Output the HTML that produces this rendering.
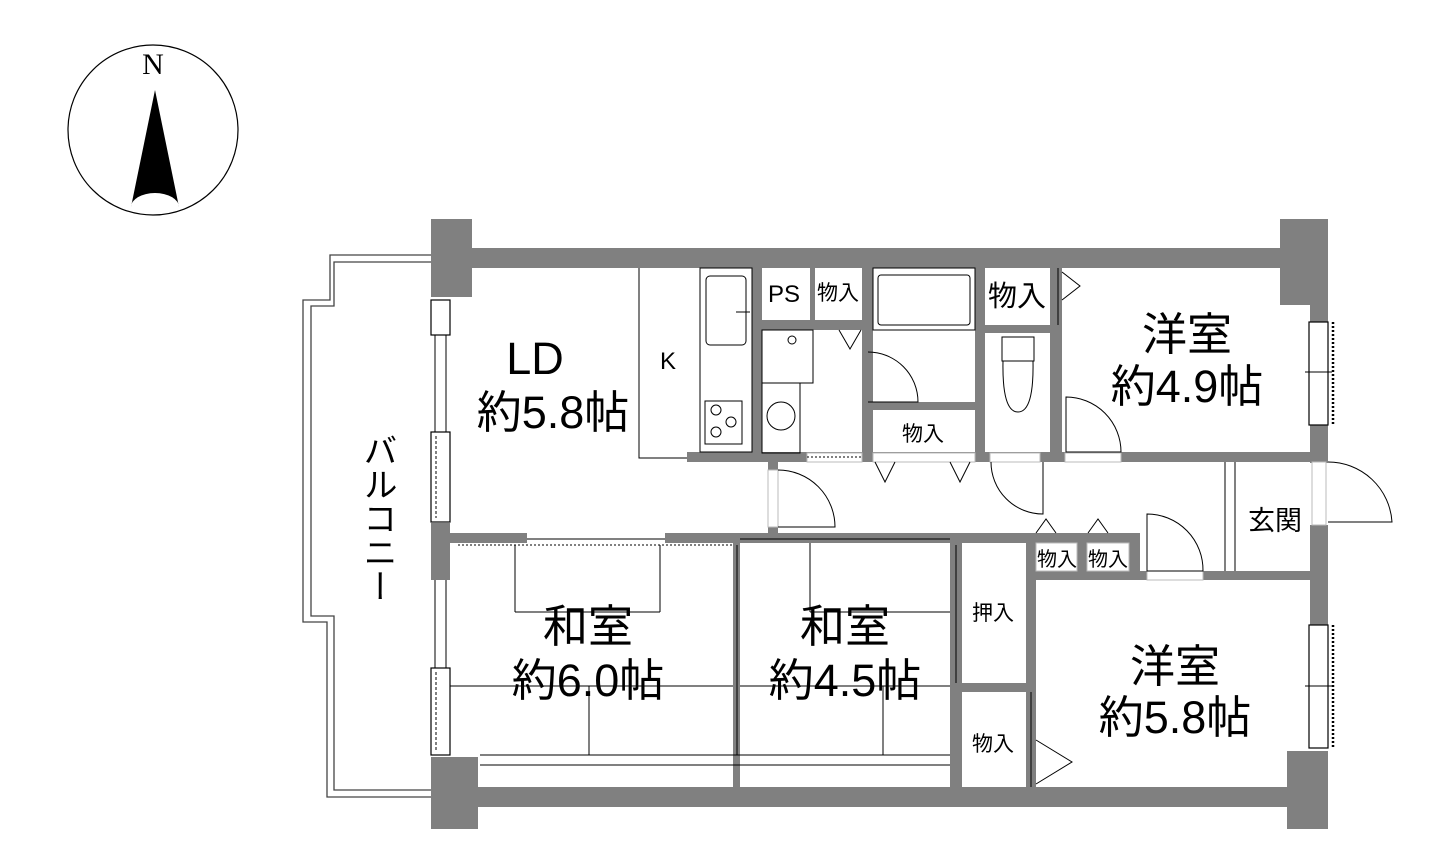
<!DOCTYPE html>
<html><head><meta charset="utf-8"><style>
html,body{margin:0;padding:0;background:#fff;}
svg{display:block;}
text{font-family:"Liberation Sans","Noto Sans CJK JP",sans-serif;fill:#000;}
text.serif{font-family:"Liberation Serif",serif;}
</style></head><body>
<svg width="1449" height="859" viewBox="0 0 1449 859" xmlns="http://www.w3.org/2000/svg">
<circle cx="153" cy="130" r="85" fill="#fff" stroke="#000" stroke-width="1.2"/>
<text class="serif" x="153" y="74" font-size="30" text-anchor="middle">N</text>
<polygon points="155,90 131,207 179,207" fill="#000"/>
<path d="M131,207 A24,14 0 0 1 179,207 Z" fill="#fff"/>

<g fill="none" stroke="#444" stroke-width="1.3">
<path d="M431,255 H330 V300 H303 V622 H327 V797 H431"/>
<path d="M431,262 H334 V306 H311 V616 H334 V790 H431"/>
</g>
<text x="377" y="518" font-size="34" text-anchor="middle" writing-mode="tb">バルコニー</text>

<g fill="#808080">
<rect x="431" y="248" width="897" height="20"/>
<rect x="431" y="219" width="41" height="78"/>
<rect x="1280" y="219" width="48" height="86"/>
<rect x="1310" y="268" width="18" height="54"/>
<rect x="1310" y="425" width="18" height="38"/>
<rect x="1310" y="525" width="18" height="100"/>
<rect x="1287" y="751" width="41" height="78"/>
<rect x="431" y="787" width="897" height="20"/>
<rect x="431" y="757" width="47" height="72"/>
<rect x="431" y="523" width="19" height="57"/>
<rect x="687" y="452" width="623" height="10"/>
<rect x="752" y="268" width="10" height="190"/>
<rect x="810" y="268" width="5" height="52"/>
<rect x="762" y="320" width="100" height="10"/>
<rect x="862" y="268" width="11" height="190"/>
<rect x="862" y="402" width="113" height="8"/>
<rect x="975" y="268" width="10" height="190"/>
<rect x="985" y="325" width="65" height="8"/>
<rect x="1050" y="268" width="12" height="190"/>
<rect x="768" y="462" width="10" height="78"/>
<rect x="450" y="533" width="77" height="10"/>
<rect x="665" y="533" width="365" height="10"/>
<rect x="1026" y="533" width="114" height="47"/>
<rect x="1026" y="571" width="284" height="9"/>
<rect x="733" y="543" width="7" height="244"/>
<rect x="950" y="543" width="12" height="244"/>
<rect x="1026" y="580" width="10" height="207"/>
<rect x="955" y="683" width="75" height="9"/>
</g>
<g fill="#fff" stroke="#bbb" stroke-width="1">
<rect x="1036" y="543" width="41" height="28"/>
<rect x="1087" y="543" width="42" height="28"/>
<rect x="1147" y="571" width="56" height="9"/>
<rect x="873" y="453" width="102" height="9"/>
<rect x="990" y="453" width="50" height="9"/>
<rect x="1065" y="453" width="56" height="9"/>
<rect x="807" y="453" width="55" height="9"/>
<rect x="768" y="470" width="10" height="57"/>
<rect x="1312" y="462" width="14" height="63"/>
</g>
<g fill="#fff" stroke="#000" stroke-width="1.2">
<rect x="431" y="300" width="19" height="35"/>
<rect x="431" y="432" width="19" height="90"/>
<rect x="431" y="668" width="19" height="87"/>
<rect x="1309" y="322" width="19" height="103"/>
<rect x="1309" y="625" width="19" height="123"/>
</g>
<g stroke="#000" stroke-width="1" fill="none">
<line x1="435" y1="335" x2="435" y2="432"/><line x1="446" y1="335" x2="446" y2="432"/>
<line x1="435" y1="580" x2="435" y2="668"/><line x1="446" y1="580" x2="446" y2="668"/>
<line x1="436" y1="436" x2="436" y2="518" stroke-dasharray="3,2"/>
<line x1="436" y1="672" x2="436" y2="750" stroke-dasharray="3,2"/>
<line x1="1333" y1="322" x2="1333" y2="425" stroke-dasharray="2,2" stroke-width="2.5"/>
<line x1="1333" y1="625" x2="1333" y2="748" stroke-dasharray="2,2" stroke-width="2.5"/>
<line x1="1305" y1="372" x2="1332" y2="372"/><line x1="1305" y1="686" x2="1332" y2="686"/>
<polyline points="639,268 639,458 687,458"/>
<rect x="700" y="268" width="52" height="184"/>
<rect x="706" y="276" width="40" height="69" rx="4"/>
<line x1="736" y1="312" x2="750" y2="312"/>
<rect x="705" y="401" width="37" height="43"/>
<circle cx="716" cy="410" r="5"/><circle cx="731" cy="422" r="5"/><circle cx="716" cy="432" r="5"/>
<rect x="762" y="330" width="51" height="53"/>
<circle cx="792" cy="340" r="4"/>
<rect x="762" y="383" width="38" height="70"/>
<circle cx="781" cy="416" r="14"/>
<line x1="807" y1="457" x2="862" y2="457" stroke-dasharray="2,2"/>
<polyline points="839,330 850,349 861,330"/>
<rect x="873" y="268" width="102" height="62"/>
<rect x="878" y="275" width="92" height="50" rx="3"/>
<path d="M868,352 A50,50 0 0 1 918,402 L868,402"/>
<rect x="1002" y="337" width="32" height="24"/>
<path d="M1003,361 Q1002,412 1018,412 Q1034,412 1033,361"/>
<path d="M1066,397 A55,55 0 0 1 1121,452 L1066,452 Z"/>
<line x1="1058" y1="268" x2="1058" y2="325"/>
<polyline points="1062,272 1080,286 1062,300"/>
<path d="M778,470 A57,57 0 0 1 835,527 L778,527"/>
<polyline points="875,462 885,482 895,462"/>
<polyline points="950,462 960,482 970,462"/>
<path d="M991,462 A52,52 0 0 0 1043,514 L1043,462"/>
<polyline points="1036,533 1046,519 1056,533"/>
<polyline points="1088,533 1098,519 1108,533"/>
<path d="M1147,514 A56,56 0 0 1 1203,571 L1147,571 Z"/>
<line x1="1225" y1="462" x2="1225" y2="571"/><line x1="1235" y1="462" x2="1235" y2="571"/>
<path d="M1328,462 A64,64 0 0 1 1392,522 L1328,522"/>
<line x1="527" y1="539" x2="665" y2="539"/>
<line x1="458" y1="545" x2="733" y2="545" stroke-dasharray="2,2"/>
<line x1="740" y1="539" x2="950" y2="539"/>
<line x1="515" y1="545" x2="515" y2="612"/><line x1="515" y1="612" x2="660" y2="612"/><line x1="660" y1="545" x2="660" y2="612"/>
<line x1="450" y1="686" x2="733" y2="686"/>
<line x1="589" y1="686" x2="589" y2="755"/>
<line x1="480" y1="755" x2="950" y2="755"/>
<line x1="480" y1="765" x2="950" y2="765"/>
<line x1="810" y1="543" x2="810" y2="612"/><line x1="810" y1="612" x2="950" y2="612"/>
<line x1="740" y1="686" x2="950" y2="686"/>
<line x1="883" y1="686" x2="883" y2="755"/>
<line x1="737" y1="545" x2="737" y2="755"/>
<line x1="956" y1="545" x2="956" y2="683"/>
<line x1="1031" y1="692" x2="1031" y2="787"/>
<polyline points="1036,740 1072,762 1036,784"/>
</g>

<g text-anchor="middle">
<text x="535" y="374" font-size="45">LD</text>
<text x="553" y="428" font-size="45">約5.8帖</text>
<text x="668" y="369" font-size="24">K</text>
<text x="784" y="302" font-size="24">PS</text>
<text x="838" y="300" font-size="21">物入</text>
<text x="1017" y="306" font-size="29">物入</text>
<text x="923" y="441" font-size="21">物入</text>
<text x="1187" y="350" font-size="45">洋室</text>
<text x="1187" y="402" font-size="45">約4.9帖</text>
<text x="1275" y="530" font-size="27">玄関</text>
<text x="1057" y="566" font-size="20">物入</text>
<text x="1108" y="566" font-size="20">物入</text>
<text x="993" y="620" font-size="21">押入</text>
<text x="993" y="751" font-size="21">物入</text>
<text x="588" y="642" font-size="45">和室</text>
<text x="588" y="696" font-size="45">約6.0帖</text>
<text x="845" y="642" font-size="45">和室</text>
<text x="845" y="696" font-size="45">約4.5帖</text>
<text x="1175" y="682" font-size="45">洋室</text>
<text x="1175" y="733" font-size="45">約5.8帖</text>
</g>
</svg>
</body></html>
